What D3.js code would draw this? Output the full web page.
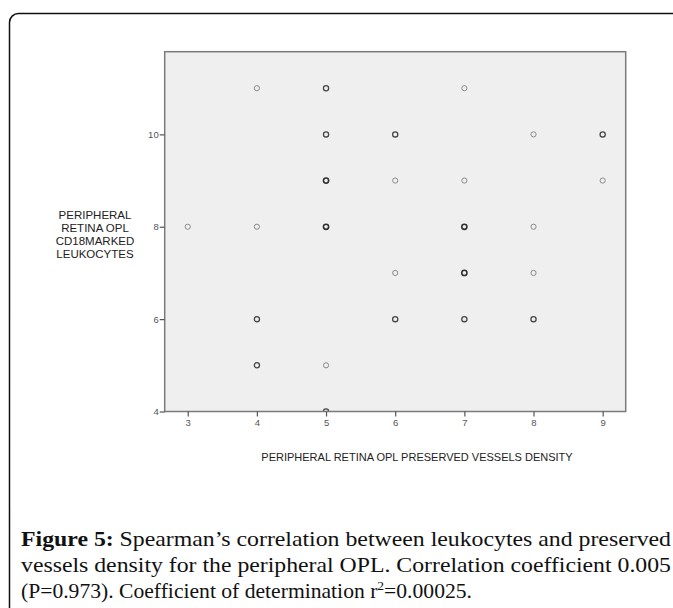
<!DOCTYPE html>
<html><head><meta charset="utf-8">
<script src="https://cdn.jsdelivr.net/npm/d3@7"></script>
<style>body{margin:0;background:#fff}svg{display:block}</style>
</head><body>
<svg id="c" width="673" height="608"></svg>
<script>
// ---- data ----
const xTicks = [3, 4, 5, 6, 7, 8, 9];
const yTicks = [4, 6, 8, 10];
const xVals  = [3, 4, 4, 4, 4, 5, 5, 5, 5, 5, 5, 6, 6, 6, 6, 7, 7, 7, 7, 7, 8, 8, 8, 8, 9, 9];
const yVals  = [8, 11, 8, 6, 5, 11, 10, 9, 8, 5, 4, 10, 9, 7, 6, 11, 9, 8, 7, 6, 10, 8, 7, 6, 10, 9];
const counts = [1, 1, 1, 2, 2, 2, 2, 3, 3, 1, 2, 2, 1, 1, 2, 1, 1, 3, 3, 2, 1, 1, 1, 2, 2, 1];
const xTitle = "PERIPHERAL RETINA OPL PRESERVED VESSELS DENSITY";
const yTitleLines = ["PERIPHERAL", "RETINA OPL", "CD18MARKED", "LEUKOCYTES"];

const svg = d3.select("#c");

// outer frame (rounded, continues off-page)
svg.append("rect").attr("x", 9.5).attr("y", 13.5).attr("width", 720).attr("height", 720)
  .attr("rx", 9).attr("fill", "none").attr("stroke", "#111").attr("stroke-width", 1.5);

const L = 164.7, R = 625.7, T = 51.7, B = 411.5;
const x = d3.scaleLinear().domain([2.667, 9.333]).range([L, R]);
const y = d3.scaleLinear().domain([4, 11.79]).range([B, T]);

svg.append("defs").append("clipPath").attr("id", "pc")
  .append("rect").attr("x", L).attr("y", T).attr("width", R - L).attr("height", B - T);

svg.append("rect").attr("x", L).attr("y", T).attr("width", R - L).attr("height", B - T)
  .attr("fill", "#efefef");

const col = {1: "#8a8a8a", 2: "#474747", 3: "#303030"};
const sw = {1: 1.0, 2: 1.3, 3: 1.55};
const pts = xVals.map((v, i) => ({x: v, y: yVals[i], n: counts[i]}));
svg.append("g").attr("clip-path", "url(#pc)").selectAll("circle").data(pts).join("circle")
  .attr("cx", d => x(d.x)).attr("cy", d => y(d.y)).attr("r", 2.6)
  .attr("fill", "none").attr("stroke", d => col[d.n]).attr("stroke-width", d => sw[d.n]);

// frame of plot area
svg.append("rect").attr("x", L).attr("y", T).attr("width", R - L).attr("height", B - T)
  .attr("fill", "none").attr("stroke", "#7a7a7a").attr("stroke-width", 1.5);

const gx = svg.append("g").attr("transform", `translate(0,${B})`)
  .call(d3.axisBottom(x).tickValues(xTicks).tickFormat(d3.format("d")).tickSize(5).tickSizeOuter(0).tickPadding(3));
const gy = svg.append("g").attr("transform", `translate(${L},0)`)
  .call(d3.axisLeft(y).tickValues(yTicks).tickFormat(d3.format("d")).tickSize(5).tickSizeOuter(0).tickPadding(1));
[gx, gy].forEach(g => {
  g.select(".domain").remove();
  g.selectAll("line").attr("stroke", "#555").attr("stroke-width", 1.2);
  g.selectAll("text").attr("fill", "#555").attr("font-family", "Liberation Sans, Arial, sans-serif").attr("font-size", 9.5);
});

svg.append("text").attr("x", 417).attr("y", 461).attr("text-anchor", "middle")
  .attr("font-family", "Liberation Sans, Arial, sans-serif").attr("font-size", 11).attr("fill", "#222")
  .text(xTitle);

svg.append("g").selectAll("text").data(yTitleLines).join("text")
  .attr("x", 95).attr("y", (d, i) => 219 + i * 13).attr("text-anchor", "middle")
  .attr("font-family", "Liberation Sans, Arial, sans-serif").attr("font-size", 11.5).attr("fill", "#222")
  .text(d => d);

// caption
const cap = svg.append("g").attr("font-family", "Liberation Serif, Times New Roman, serif")
  .attr("font-size", 21.5).attr("fill", "#111");
const l1 = cap.append("text").attr("x", 21).attr("y", 546)
  .attr("textLength", 650).attr("lengthAdjust", "spacingAndGlyphs");
l1.append("tspan").attr("font-weight", "bold").text("Figure 5:");
l1.append("tspan").text(" Spearman’s correlation between leukocytes and preserved");
cap.append("text").attr("x", 21).attr("y", 572)
  .attr("textLength", 650).attr("lengthAdjust", "spacingAndGlyphs")
  .text("vessels density for the peripheral OPL. Correlation coefficient 0.005");
const l3 = cap.append("text").attr("x", 21).attr("y", 598)
  .attr("textLength", 451).attr("lengthAdjust", "spacingAndGlyphs")
  .text("(P=0.973). Coefficient of determination r");
l3.append("tspan").attr("font-size", 13.5).attr("dy", -8).text("2");
l3.append("tspan").attr("dy", 8).text("=0.00025.");
</script>
</body></html>
